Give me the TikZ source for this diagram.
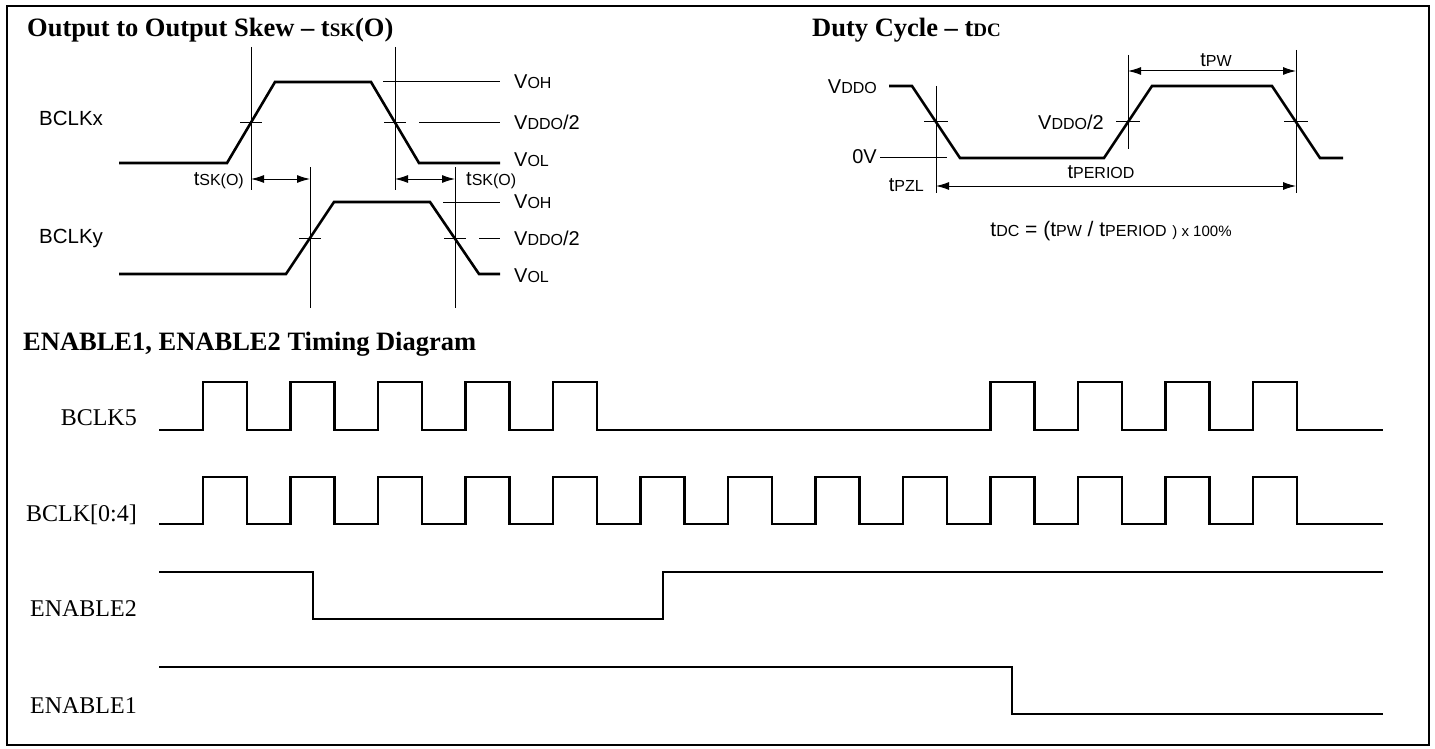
\documentclass[tikz,border=0pt]{standalone}
\usepackage{fontspec}
\setmainfont{Liberation Serif}
\newfontfamily\arialfont{Liberation Sans}
\usetikzlibrary{arrows.meta}

\newcommand{\lbsub}[1]{{\fontsize{16}{16}\selectfont #1}}
\newcommand{\ttlsub}[1]{{\fontsize{19}{20}\selectfont #1}}

\tikzset{
  wave/.style={line width=2.6pt},
  guide/.style={line width=1pt},
  measure/.style={line width=1pt, >={Latex[length=13pt,width=8pt]}, <->},
  ttl/.style={font=\fontsize{26.5}{30}\selectfont\bfseries, anchor=base west, inner sep=0pt},
  lbl/.style={font=\arialfont\fontsize{20}{22}\selectfont, inner sep=0pt},
  clk/.style={font=\arialfont\fontsize{20.5}{22}\selectfont, inner sep=0pt, anchor=west},
  sig/.style={font=\fontsize{24}{26}\selectfont, anchor=base east, inner sep=0pt},
}

\begin{document}
\begin{tikzpicture}[x=1pt,y=-1pt]
            \useasboundingbox (0,0) rectangle (1435,749);
            \draw[line width=2.5pt] (7,6) rectangle (1429,745);
            %% output to output skew
            \node[ttl] (skewttl) at (27,37) {Output to Output Skew -- t\ttlsub{SK}(O)};
            \node[clk] (bclkx) at (39,118) {BCLKx};
            \node[clk] (bclky) at (39,238) {BCLKy};
            \draw[wave] (119,163) -- (227,163) -- (275,82) -- (371,82) -- (419,163) -- (500,163);
            \draw[wave] (119,274) -- (286,274) -- (334,202) -- (430,202) -- (479,274) -- (500,274);
            \foreach \x/\ya/\yb in {251/47/190,395/47/190,310/167/308,455/167/308}{
            \draw[guide] (\x,\ya) -- (\x,\yb);
            }
            \foreach \x/\y in {251/122.5,395/122.5,310/238,455/238}{
            \draw[guide] (\x-11,\y) -- (\x+11,\y);
            }
            \draw[guide] (383,82) -- (500,82);
            \draw[guide] (419,122.5) -- (500,122.5);
            \draw[guide] (443,202) -- (500,202);
            \draw[guide] (479,238) -- (500,238);
            \node[lbl, anchor=west] (vohx) at (514,82) {V\lbsub{OH}};
            \node[lbl, anchor=west] (vmidx) at (514,122.5) {V\lbsub{DDO}/2};
            \node[lbl, anchor=west] (volx) at (514,160) {V\lbsub{OL}};
            \node[lbl, anchor=west] (vohy) at (514,202) {V\lbsub{OH}};
            \node[lbl, anchor=west] (vmidy) at (514,238) {V\lbsub{DDO}/2};
            \node[lbl, anchor=west] (voly) at (514,276) {V\lbsub{OL}};
            \coordinate (skewa) at (251,179);
            \coordinate (skewb) at (310,179);
            \coordinate (skewc) at (395,179);
            \coordinate (skewd) at (455,179);
            \draw[measure] (skewa) -- (skewb);
            \draw[measure] (skewc) -- (skewd);
            \node[lbl, anchor=east] (tska) at (244,181) {t\lbsub{SK(O)}};
            \node[lbl, anchor=west] (tskb) at (466,181) {t\lbsub{SK(O)}};
            %% duty cycle
            \node[ttl] (dutyttl) at (812,37) {Duty Cycle -- t\ttlsub{DC}};
            \draw[wave] (889,86) -- (912,86) -- (960,158) -- (1104,158) -- (1152,86) -- (1272,86) -- (1320,158) -- (1343,158);
            \node[lbl, anchor=east] (vddo) at (877,87) {V\lbsub{DDO}};
            \node[lbl, anchor=east] (zerov) at (877,157) {0V};
            \draw[guide] (880,158) -- (947,158);
            \draw[guide] (936,86) -- (936,193);
            \draw[guide] (1128,55) -- (1128,149);
            \draw[guide] (1296,50) -- (1296,193);
            \foreach \x in {936,1128,1296}{
            \draw[guide] (\x-12,122) -- (\x+12,122);
            }
            \node[lbl, anchor=east] (vhalf) at (1104,122) {V\lbsub{DDO}/2};
            \node[lbl, anchor=east] (tpzl) at (924,185) {t\lbsub{PZL}};
            \coordinate (pera) at (936,186);
            \coordinate (perb) at (1296,186);
            \coordinate (pwa) at (1128,71);
            \coordinate (pwb) at (1296,71);
            \draw[measure] (pera) -- (perb);
            \draw[measure] (pwa) -- (pwb);
            \node[lbl] (tperiod) at (1101,172) {t\lbsub{PERIOD}};
            \node[lbl] (tpw) at (1216,60) {t\lbsub{PW}};
            \node[lbl, font=\arialfont\fontsize{21}{22}\selectfont] (tdc) at (1111,231)
              {t\lbsub{DC} = (t\lbsub{PW} / t\lbsub{PERIOD} {\fontsize{15}{16}\selectfont) x 100\%}};
            %% enable timing
            \node[ttl] (enttl) at (23,350) {ENABLE1, ENABLE2 Timing Diagram};
            \node[sig] (sclk5) at (137,425) {BCLK5};
            \node[sig] (sclkall) at (137,521) {BCLK[0:4]};
            \node[sig] (sen2) at (137,616) {ENABLE2};
            \node[sig] (sen1) at (137,713) {ENABLE1};
            \draw[wave] (159,430)
              \foreach \k in {0,...,4,9,10,11,12}{ -- ({203+87.5*\k},430) -- ({203+87.5*\k},382) -- ({247+87.5*\k},382) -- ({247+87.5*\k},430) }
              -- (1383,430);
            \draw[wave] (159,524)
              \foreach \k in {0,...,12}{ -- ({203+87.5*\k},524) -- ({203+87.5*\k},477) -- ({247+87.5*\k},477) -- ({247+87.5*\k},524) }
              -- (1383,524);
            \draw[wave] (159,572) -- (313,572) -- (313,619) -- (663,619) -- (663,572) -- (1383,572);
            \draw[wave] (159,667) -- (1012,667) -- (1012,714) -- (1383,714);
        \end{tikzpicture}
\end{document}
